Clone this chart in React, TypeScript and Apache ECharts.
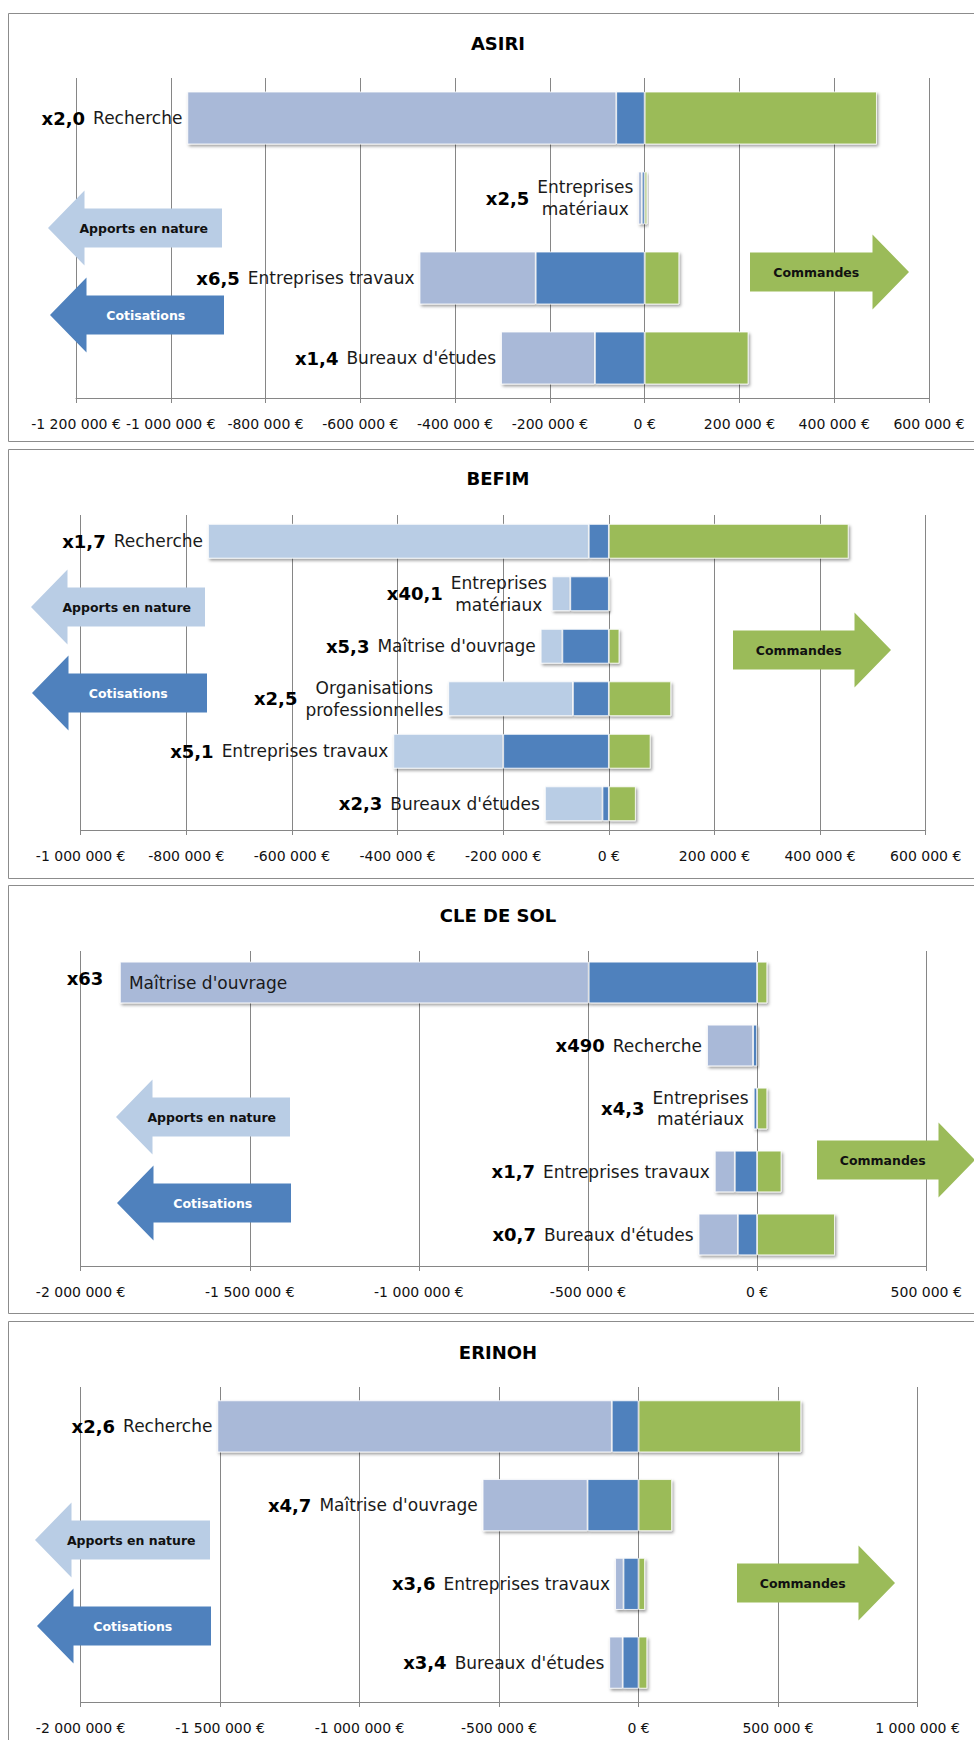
import React, { useEffect, useRef } from 'react';
import * as echarts from 'echarts';

// ---- data -------------------------------------------------------------
const panelTitles = ['ASIRI', 'BEFIM', 'CLE DE SOL', 'ERINOH'];

const asiriCategories = ['Recherche', 'Entreprises\nmatériaux', 'Entreprises travaux', "Bureaux d'études"];
const asiriRatios = ['x2,0', 'x2,5', 'x6,5', 'x1,4'];
const asiriApports = [-905000, -7500, -245000, -198000];
const asiriCotisations = [-60000, -6000, -230000, -105000];
const asiriCommandes = [490000, 5400, 73000, 219000];

const befimCategories = ['Recherche', 'Entreprises\nmatériaux', "Maîtrise d'ouvrage", 'Organisations\nprofessionnelles', 'Entreprises travaux', "Bureaux d'études"];
const befimRatios = ['x1,7', 'x40,1', 'x5,3', 'x2,5', 'x5,1', 'x2,3'];
const befimApports = [-721000, -35000, -41000, -236000, -208000, -109000];
const befimCotisations = [-38000, -73000, -88000, -68000, -200000, -12000];
const befimCommandes = [454000, 2700, 20000, 118000, 79000, 51000];

const cleCategories = ["Maîtrise d'ouvrage", 'Recherche', 'Entreprises\nmatériaux', 'Entreprises travaux', "Bureaux d'études"];
const cleRatios = ['x63', 'x490', 'x4,3', 'x1,7', 'x0,7'];
const cleApports = [-1386000, -136000, -500, -59000, -116000];
const cleCotisations = [-498000, -12000, -10000, -66000, -57000];
const cleCommandes = [30000, 300, 30000, 72000, 230000];

const erinohCategories = ['Recherche', "Maîtrise d'ouvrage", 'Entreprises travaux', "Bureaux d'études"];
const erinohRatios = ['x2,6', 'x4,7', 'x3,6', 'x3,4'];
const erinohApports = [-1414000, -376000, -30000, -48000];
const erinohCotisations = [-96000, -183000, -54000, -57000];
const erinohCommandes = [583000, 120000, 23000, 31000];

const axisMins = [-1200000, -1000000, -2000000, -2000000];
const axisMaxs = [600000, 600000, 500000, 1000000];
const axisIntervals = [200000, 200000, 500000, 500000];

const arrowLabels = ['Apports en nature', 'Cotisations', 'Commandes'];

// ---- styling / layout ---------------------------------------------------
const FONT = '"DejaVu Sans", "Noto Sans", sans-serif';
const NAME_SIZE = 17;
const RATIO_SIZE = 18;
const NAME_FONT = `normal ${NAME_SIZE}px ${FONT}`;
const RATIO_FONT = `bold ${RATIO_SIZE}px ${FONT}`;
const GRID_COLOR = '#868686';
const COTIS_COLOR = '#4F81BD';
const COMMANDES_COLOR = '#9BBB59';
const APPORTS_ARROW_COLOR = '#B9CDE5';
const apportsBarColors = ['#A9B9D8', '#B9CDE5', '#A9B9D8', '#A9B9D8'];

const panels = [
  {
    categories: asiriCategories, ratios: asiriRatios,
    apports: asiriApports, cotisations: asiriCotisations, commandes: asiriCommandes,
  },
  {
    categories: befimCategories, ratios: befimRatios,
    apports: befimApports, cotisations: befimCotisations, commandes: befimCommandes,
  },
  {
    categories: cleCategories, ratios: cleRatios,
    apports: cleApports, cotisations: cleCotisations, commandes: cleCommandes,
  },
  {
    categories: erinohCategories, ratios: erinohRatios,
    apports: erinohApports, cotisations: erinohCotisations, commandes: erinohCommandes,
  },
];

// box: [top, bottom]; grid: [left, top, width, height]; arrows: [x0, x1, centerY]
const layouts = [
  {
    box: [13, 441], titleY: 43, grid: [76, 78, 853, 320],
    apportsArrow: [48, 222, 228], cotisArrow: [50, 224, 315], commandesArrow: [750, 909, 272],
  },
  {
    box: [449, 878], titleY: 478, grid: [80.7, 515, 845, 315],
    apportsArrow: [31, 205, 607], cotisArrow: [32, 207, 693], commandesArrow: [733, 891, 650],
  },
  {
    box: [885, 1313], titleY: 915, grid: [80.7, 951, 845.5, 315],
    apportsArrow: [116, 290, 1117], cotisArrow: [117, 291, 1203], commandesArrow: [817, 975, 1160],
  },
  {
    box: [1321, 1749], titleY: 1352, grid: [80.7, 1387, 836.8, 315],
    apportsArrow: [35, 210, 1540], cotisArrow: [37, 211, 1626], commandesArrow: [737, 895, 1583],
  },
];

const fmtEuro = (v: number) => {
  const s = Math.abs(v).toString().replace(/\B(?=(\d{3})+(?!\d))/g, ' ');
  return (v < 0 ? '-' : '') + s + ' €';
};

let measureCtx: CanvasRenderingContext2D | null = null;
const textWidth = (t: string, font: string) => {
  if (!measureCtx) measureCtx = document.createElement('canvas').getContext('2d');
  if (!measureCtx) return t.length * 9;
  measureCtx.font = font;
  return measureCtx.measureText(t).width;
};

const HEAD = 36.5;
const BODY_HALF = 19.5;
const HEAD_HALF = 37.5;

function leftArrow(tip: number, right: number, cy: number, fill: string, label: string, textColor: string) {
  const b = tip + HEAD;
  return [
    {
      type: 'polygon', z: 5,
      shape: {
        points: [
          [right, cy - BODY_HALF], [b, cy - BODY_HALF], [b, cy - HEAD_HALF], [tip, cy],
          [b, cy + HEAD_HALF], [b, cy + BODY_HALF], [right, cy + BODY_HALF],
        ],
      },
      style: { fill },
    },
    {
      type: 'text', z: 6, x: (b + right) / 2 - 9.5, y: cy,
      style: {
        text: label, font: `bold 12.5px ${FONT}`, fill: textColor,
        align: 'center', verticalAlign: 'middle', textAlign: 'center', textVerticalAlign: 'middle',
      },
    },
  ];
}

function rightArrow(left: number, tip: number, cy: number, fill: string, label: string, textColor: string) {
  const b = tip - HEAD;
  return [
    {
      type: 'polygon', z: 5,
      shape: {
        points: [
          [left, cy - BODY_HALF], [b, cy - BODY_HALF], [b, cy - HEAD_HALF], [tip, cy],
          [b, cy + HEAD_HALF], [b, cy + BODY_HALF], [left, cy + BODY_HALF],
        ],
      },
      style: { fill },
    },
    {
      type: 'text', z: 6, x: (left + b) / 2 + 5, y: cy,
      style: {
        text: label, font: `bold 12.5px ${FONT}`, fill: textColor,
        align: 'center', verticalAlign: 'middle', textAlign: 'center', textVerticalAlign: 'middle',
      },
    },
  ];
}

const barShadow = {
  borderColor: '#ffffff',
  borderWidth: 0.8,
  shadowBlur: 3,
  shadowColor: 'rgba(0,0,0,0.38)',
  shadowOffsetX: 1.5,
  shadowOffsetY: 2,
};

function buildOption() {
  const grid: any[] = [];
  const xAxis: any[] = [];
  const yAxis: any[] = [];
  const series: any[] = [];
  const graphic: any[] = [];

  panels.forEach((p, i) => {
    const L = layouts[i];
    grid.push({
      left: L.grid[0], top: L.grid[1], width: L.grid[2], height: L.grid[3],
      containLabel: false, outerBoundsMode: 'none',
    });
    xAxis.push({
      type: 'value', gridIndex: i,
      min: axisMins[i], max: axisMaxs[i], interval: axisIntervals[i],
      axisLine: { show: true, onZero: false, lineStyle: { color: GRID_COLOR, width: 1 } },
      axisTick: { show: true, length: 5, lineStyle: { color: GRID_COLOR } },
      splitLine: { show: true, lineStyle: { color: GRID_COLOR, width: 1 } },
      axisLabel: {
        formatter: fmtEuro, fontFamily: FONT, fontSize: 14, color: '#111', margin: 19,
        showMinLabel: true, showMaxLabel: true, hideOverlap: false,
      },
    });
    yAxis.push({
      type: 'category', gridIndex: i, data: p.categories, inverse: true, show: false,
    });

    const common = {
      type: 'bar', stack: 'panel' + i, xAxisIndex: i, yAxisIndex: i,
      barCategoryGap: '34%',
    };
    series.push({
      ...common, name: arrowLabels[1], data: p.cotisations, z: 3,
      itemStyle: { color: COTIS_COLOR, ...barShadow },
    });
    series.push({
      ...common, name: arrowLabels[0], data: p.apports, z: 2,
      itemStyle: { color: apportsBarColors[i], ...barShadow },
    });
    series.push({
      ...common, name: arrowLabels[2], data: p.commandes, z: 4,
      itemStyle: { color: COMMANDES_COLOR, ...barShadow },
    });

    // category name + multiplier, placed at the outer end of the negative stack
    series.push({
      type: 'custom', xAxisIndex: i, yAxisIndex: i, z: 10, clip: false,
      data: p.categories.map((_, k) => [p.apports[k] + p.cotisations[k], k]),
      encode: { x: 0, y: 1 },
      renderItem: (params: any, api: any) => {
        const k = params.dataIndex;
        const pt = api.coord([api.value(0), api.value(1)]);
        const name = p.categories[k];
        const ratio = p.ratios[k];
        const lines = name.split('\n');
        const nameW = Math.max(...lines.map((l) => textWidth(l, NAME_FONT)));
        const ratioW = textWidth(ratio, RATIO_FONT);
        const barLeft = pt[0];
        const cy = pt[1];
        const nameRight = barLeft - 5;
        const gap = 8;
        const start = nameRight - nameW - gap - ratioW;
        const nameStyle = {
          fontSize: NAME_SIZE, fontFamily: FONT, fill: '#1a1a1a', lineHeight: 21.5,
        };
        const ratioStyle = {
          fontSize: RATIO_SIZE, fontFamily: FONT, fontWeight: 'bold', fill: '#000',
        };
        const children: any[] = [];
        if (start >= 18) {
          children.push({
            type: 'text', x: nameRight - nameW / 2, y: cy,
            style: { ...nameStyle, text: name, align: 'center', verticalAlign: 'middle', textAlign: 'center', textVerticalAlign: 'middle' },
          });
          children.push({
            type: 'text', x: nameRight - nameW - gap, y: cy,
            style: { ...ratioStyle, text: ratio, align: 'right', verticalAlign: 'middle', textAlign: 'right', textVerticalAlign: 'middle' },
          });
        } else {
          // not enough room on the left: name goes inside the bar
          children.push({
            type: 'text', x: barLeft + 9, y: cy,
            style: { ...nameStyle, text: name, align: 'left', verticalAlign: 'middle', textAlign: 'left', textVerticalAlign: 'middle' },
          });
          children.push({
            type: 'text', x: params.coordSys.x - 14, y: cy - 4,
            style: { ...ratioStyle, text: ratio, align: 'left', verticalAlign: 'middle', textAlign: 'left', textVerticalAlign: 'middle' },
          });
        }
        return { type: 'group', children };
      },
    });

    // panel frame and title
    graphic.push({
      type: 'rect', z: 0, silent: true,
      shape: { x: 8.5, y: L.box[0] + 0.5, width: 990, height: L.box[1] - L.box[0] },
      style: { fill: 'none', stroke: '#8c8c8c', lineWidth: 1 },
    });
    graphic.push({
      type: 'text', z: 6, x: 498, y: L.titleY,
      style: {
        text: panelTitles[i], font: `bold 18px ${FONT}`, fill: '#000',
        align: 'center', verticalAlign: 'middle', textAlign: 'center', textVerticalAlign: 'middle',
      },
    });
    graphic.push(...leftArrow(L.apportsArrow[0], L.apportsArrow[1], L.apportsArrow[2], APPORTS_ARROW_COLOR, arrowLabels[0], '#111'));
    graphic.push(...leftArrow(L.cotisArrow[0], L.cotisArrow[1], L.cotisArrow[2], COTIS_COLOR, arrowLabels[1], '#ffffff'));
    graphic.push(...rightArrow(L.commandesArrow[0], L.commandesArrow[1], L.commandesArrow[2], COMMANDES_COLOR, arrowLabels[2], '#111'));
  });

  return {
    animation: false,
    backgroundColor: '#ffffff',
    grid, xAxis, yAxis, series,
    graphic: { elements: graphic },
  };
}

export default function App() {
  const ref = useRef<HTMLDivElement>(null);
  useEffect(() => {
    if (!ref.current) return;
    const chart = echarts.init(ref.current, undefined, { renderer: 'svg' });
    chart.setOption(buildOption() as any);
    return () => chart.dispose();
  }, []);
  return (
    <div
      ref={ref}
      style={{ position: 'absolute', left: 0, top: 0, width: 974, height: 1740 }}
    />
  );
}
